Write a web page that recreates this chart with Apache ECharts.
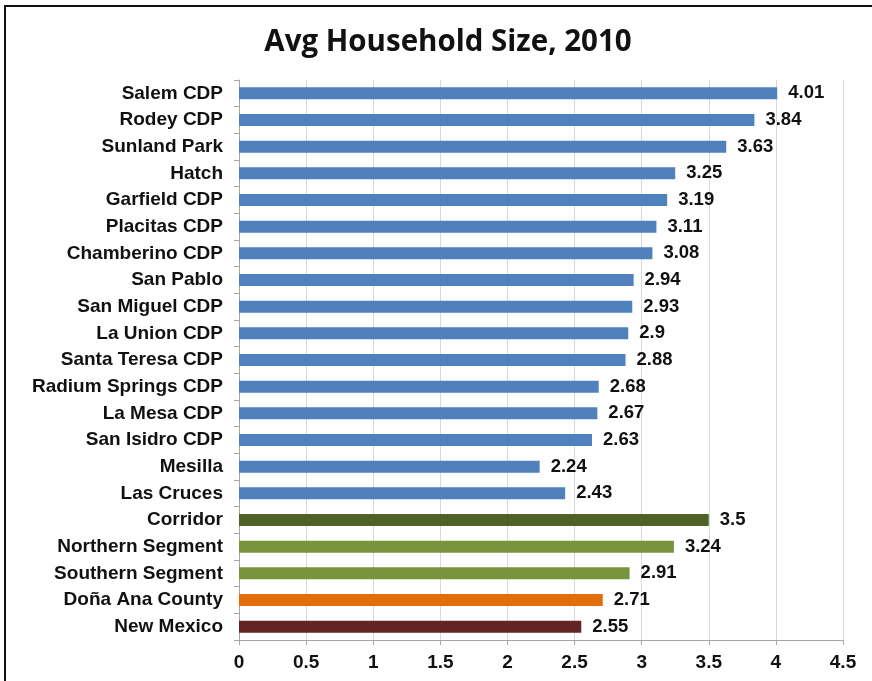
<!DOCTYPE html>
<html>
<head>
<meta charset="utf-8">
<script src="https://cdn.jsdelivr.net/npm/echarts@6/dist/echarts.min.js"></script>
<style>
  html, body { margin: 0; padding: 0; background: #fff; }
  #frame { position: absolute; left: 4px; top: 5px; width: 880px; height: 700px;
           border-left: 2px solid #111; border-top: 2px solid #111; }
  #chart { position: absolute; left: 0; top: 0; width: 872px; height: 681px; }
</style>
</head>
<body>
<div id="frame"></div>
<div id="chart"></div>
<script>
// Average household size by place, 2010
const places = [
  'Salem CDP', 'Rodey CDP', 'Sunland Park', 'Hatch', 'Garfield CDP',
  'Placitas CDP', 'Chamberino CDP', 'San Pablo', 'San Miguel CDP', 'La Union CDP',
  'Santa Teresa CDP', 'Radium Springs CDP', 'La Mesa CDP', 'San Isidro CDP', 'Mesilla',
  'Las Cruces', 'Corridor', 'Northern Segment', 'Southern Segment', 'Doña Ana County',
  'New Mexico'
];
const householdSize = [
  4.01, 3.84, 3.63, 3.25, 3.19,
  3.11, 3.08, 2.94, 2.93, 2.9,
  2.88, 2.68, 2.67, 2.63, 2.24,
  2.43, 3.5, 3.24, 2.91, 2.71,
  2.55
];
// Bar colour group for each place
const groups = [
  'cdp', 'cdp', 'cdp', 'cdp', 'cdp',
  'cdp', 'cdp', 'cdp', 'cdp', 'cdp',
  'cdp', 'cdp', 'cdp', 'cdp', 'cdp',
  'cdp', 'corridor', 'segment', 'segment', 'county',
  'state'
];
const groupColors = {
  cdp: '#4F81BD',
  corridor: '#4F6228',
  segment: '#77933C',
  county: '#E46C0A',
  state: '#632523'
};
const xTicks = [0, 0.5, 1, 1.5, 2, 2.5, 3, 3.5, 4, 4.5];

const chart = echarts.init(document.getElementById('chart'), null, { renderer: 'canvas' });
chart.setOption({
  animation: false,
  backgroundColor: 'transparent',
  title: {
    text: 'Avg Household Size, 2010',
    left: 443,
    top: 23,
    textAlign: 'center',
    textStyle: { fontFamily: 'Open Sans', fontWeight: 'bold', fontSize: 29.5, color: '#111' }
  },
  grid: { left: 239, right: 29, top: 80, bottom: 41, containLabel: false },
  xAxis: {
    type: 'value',
    min: xTicks[0],
    max: xTicks[xTicks.length - 1],
    interval: 0.5,
    axisLine: { show: true, lineStyle: { color: '#A6A6A6', width: 1 } },
    axisTick: { show: true, length: 5, lineStyle: { color: '#A6A6A6' } },
    splitLine: { show: true, lineStyle: { color: '#D9D9D9', width: 1 } },
    axisLabel: {
      margin: 13,
      fontFamily: 'Liberation Sans, Arial', fontWeight: 'bold', fontSize: 19, color: '#111',
      formatter: v => String(v)
    }
  },
  yAxis: {
    type: 'category',
    data: places,
    inverse: true,
    axisLine: { show: true, lineStyle: { color: '#A6A6A6', width: 1 } },
    axisTick: { show: true, length: 5, lineStyle: { color: '#A6A6A6' } },
    axisLabel: {
      margin: 16,
      fontFamily: 'Liberation Sans, Arial', fontWeight: 'bold', fontSize: 19, color: '#111'
    }
  },
  series: [{
    type: 'bar',
    data: householdSize.map((v, i) => ({ value: v, itemStyle: { color: groupColors[groups[i]] } })),
    barWidth: 12,
    label: {
      show: true,
      position: 'right',
      distance: 11,
      fontFamily: 'Liberation Sans, Arial', fontWeight: 'bold', fontSize: 18.5, color: '#111',
      formatter: p => String(p.value)
    }
  }]
});
</script>
</body>
</html>
